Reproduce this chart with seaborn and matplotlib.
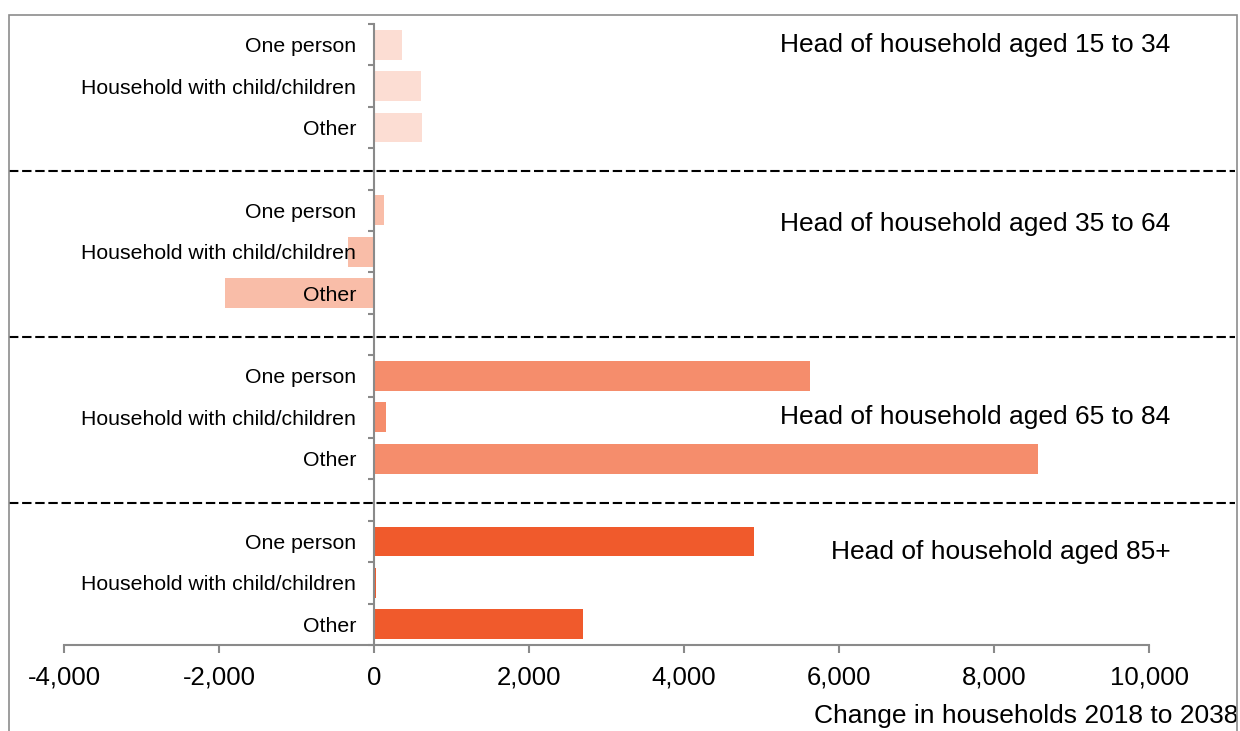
import numpy as np
import pandas as pd
import matplotlib
matplotlib.use('Agg')
import matplotlib.pyplot as plt
import matplotlib.ticker as mticker
import matplotlib.transforms as mtransforms
from matplotlib.patches import Rectangle
import seaborn as sns

# data
groups = ['Head of household aged 15 to 34', 'Head of household aged 35 to 64',
          'Head of household aged 65 to 84', 'Head of household aged 85+']
household_types = ['One person', 'Household with child/children', 'Other']
change_15_34 = [355, 600, 625]
change_35_64 = [130, -330, -1920]
change_65_84 = [5625, 150, 8565]
change_85_plus = [4900, 25, 2700]
group_colors = ['#FCDDD3', '#F9BDA8', '#F58D6C', '#F05A2C']
x_ticks = [-4000, -2000, 0, 2000, 4000, 6000, 8000, 10000]
x_title = 'Change in households 2018 to 2038'

# layout: each group takes 4 slots (3 bars + a gap), the gap holds the dashed separator
slots_per_group = len(household_types) + 1
label_offsets = [0.0, 0.32, 1.0, 0.25]  # where the group caption sits inside its group

rows = []
for gi, (grp, vals) in enumerate(zip(groups, [change_15_34, change_35_64, change_65_84, change_85_plus])):
    for ti, (htype, v) in enumerate(zip(household_types, vals)):
        rows.append({'group': grp, 'type': htype, 'change': v, 'slot': gi * slots_per_group + ti})
df = pd.DataFrame(rows)

sns.set_theme(style='white')
plt.rcParams['font.family'] = ['Liberation Sans', 'DejaVu Sans']

W, H = 1240, 731
fig = plt.figure(figsize=(W / 100, H / 100), dpi=100)
ax = fig.add_axes([64 / W, 1 - 645 / H, 1085 / W, 621 / H])

sns.barplot(data=df, x='change', y='slot', hue='group', palette=group_colors,
            orient='y', native_scale=True, width=0.72, dodge=False, legend=False,
            errorbar=None, saturation=1, linewidth=0, ax=ax)

# keep bars underneath the category labels and the zero line
for bar in ax.patches:
    bar.set_zorder(0.5)
ax.yaxis.set_zorder(3)
ax.xaxis.set_zorder(3)

n_slots = len(groups) * slots_per_group - 1
ax.set_ylim(n_slots - 0.5, -0.5)
ax.set_xlim(x_ticks[0], x_ticks[-1])

axis_grey = '#8a8a8a'
# spines
for side in ['top', 'right']:
    ax.spines[side].set_visible(False)
ax.spines['left'].set_position(('data', 0))
for side in ['left', 'bottom']:
    ax.spines[side].set_color(axis_grey)
    ax.spines[side].set_linewidth(1.5)
    ax.spines[side].set_zorder(3)

# x axis
ax.set_xticks(x_ticks)
ax.xaxis.set_major_formatter(mticker.FuncFormatter(lambda v, p: f'{v:,.0f}'))
ax.tick_params(axis='x', which='major', direction='out', length=6, width=1.5,
               color=axis_grey, labelsize=18.5, pad=9, bottom=True, labelcolor='black')
ax.set_xlabel(x_title, fontsize=19, color='black', ha='right')
ax.xaxis.set_label_coords((1238 - 64) / 1085, -0.095)

# y axis: labels sit left of the zero line, small ticks between slots
ax.set_yticks(df['slot'])
ax.set_yticklabels(df['type'])
ax.set_yticks(np.arange(-0.5, n_slots, 1.0), minor=True)
ax.tick_params(axis='y', which='major', length=0, pad=13, labelsize=15.3, labelcolor='black')
ax.tick_params(axis='y', which='minor', direction='out', length=4.5, width=1.5,
               color=axis_grey, left=True)
ax.set_ylabel('')

# dashed separators across the whole frame
blend = mtransforms.blended_transform_factory(ax.transAxes, ax.transData)
for gi in range(1, len(groups)):
    y = gi * slots_per_group - 1 + 0.06
    ax.plot([-0.0507, 1.079], [y, y], transform=blend, color='black', lw=1.5,
            dashes=(4.5, 1.8), clip_on=False, zorder=3)

# group captions
for gi, grp in enumerate(groups):
    ax.text(1.02, gi * slots_per_group + label_offsets[gi], grp, transform=blend,
            ha='right', va='center', fontsize=19, color='black')

# outer grey frame (bottom edge falls outside the image)
fig.patches.append(Rectangle((9 / W, -0.1), (1237 - 9) / W, 1 - 15 / H + 0.1,
                             transform=fig.transFigure, fill=False,
                             edgecolor='#8c8c8c', lw=1.2))

fig.savefig('out.png', dpi=100)
